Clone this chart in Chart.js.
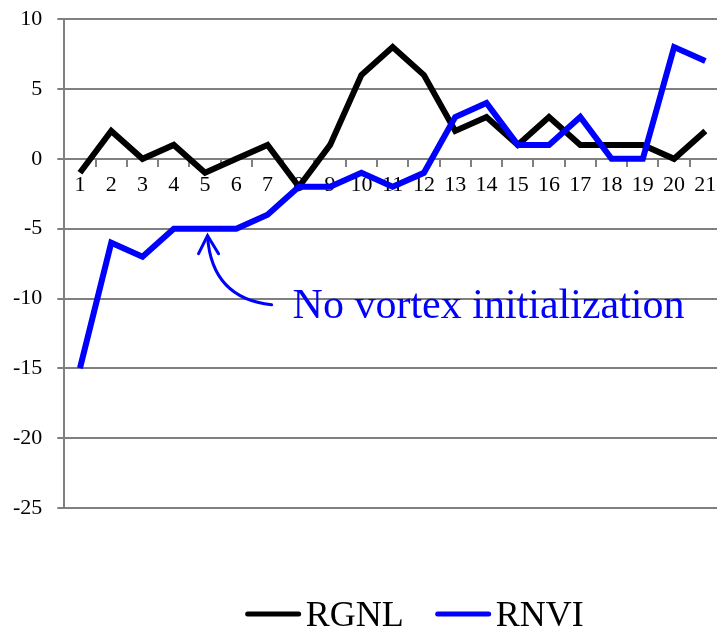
<!DOCTYPE html>
<html>
<head>
<meta charset="utf-8">
<script src="https://cdn.jsdelivr.net/npm/chart.js@4/dist/chart.umd.min.js"></script>
<style>
    html, body { margin: 0; padding: 0; background: #fff; overflow: hidden; }
    #wrap { width: 732px; height: 639px; margin-top: -9px; margin-left: -2px; }
</style>
</head>
<body>
<div id="wrap"><canvas id="trackChart" width="732" height="639"></canvas></div>
<script>
// forecast lead times on the x axis
var leadTimes = ['1', '2', '3', '4', '5', '6', '7', '8', '9', '10', '11',
                 '12', '13', '14', '15', '16', '17', '18', '19', '20', '21'];
var rgnlValues = [-1, 2, 0, 1, -1, 0, 1, -2, 1, 6, 8, 6, 2, 3, 1, 3, 1, 1, 1, 0, 2];
var rnviValues = [-15, -6, -7, -5, -5, -5, -4, -2, -2, -1, -2, -1, 3, 4, 1, 1, 3, 0, 0, 8, 7];
var yTicks = [-25, -20, -15, -10, -5, 0, 5, 10];
var seriesNames = ['RGNL', 'RNVI'];
var seriesColors = ['#000000', '#0000ff'];
var noteText = 'No vortex initialization';

Chart.defaults.font.family = "'Liberation Serif', 'Times New Roman', serif";
Chart.defaults.color = '#000';

// arrow + text pointing at the RNVI plateau
var notePlugin = {
    id: 'note',
    afterDatasetsDraw: function(chart) {
        var x = chart.scales.x, y = chart.scales.y, ctx = chart.ctx;
        var tipX = x.getPixelForValue(4.08), tipY = y.getPixelForValue(-5.5);
        var ctlX = x.getPixelForValue(4.22), ctlY = y.getPixelForValue(-10.0);
        var endX = x.getPixelForValue(6.13), endY = y.getPixelForValue(-10.45);
        ctx.save();
        ctx.strokeStyle = seriesColors[1];
        ctx.lineWidth = 3;
        ctx.lineCap = 'round';
        ctx.beginPath();
        ctx.moveTo(endX, endY);
        ctx.quadraticCurveTo(ctlX, ctlY, tipX, tipY + 1);
        ctx.stroke();
        ctx.beginPath();
        ctx.moveTo(tipX - 9, tipY + 18);
        ctx.lineTo(tipX, tipY);
        ctx.lineTo(tipX + 11, tipY + 18);
        ctx.stroke();
        ctx.fillStyle = seriesColors[1];
        ctx.font = "42px 'Liberation Serif', serif";
        ctx.textBaseline = 'alphabetic';
        ctx.fillText(noteText, x.getPixelForValue(6.8), y.getPixelForValue(-11.36));
        ctx.restore();
    }
};

// legend drawn under the plot
var legendPlugin = {
    id: 'lineLegend',
    afterDraw: function(chart) {
        var ctx = chart.ctx;
        var area = chart.chartArea;
        var lineLen = 55, gapText = 5, gapItem = 32;
        ctx.save();
        ctx.font = "36px 'Liberation Serif', serif";
        var widths = seriesNames.map(function(n) { return ctx.measureText(n).width; });
        var total = 0;
        widths.forEach(function(w) { total += lineLen + gapText + w; });
        total += gapItem * (seriesNames.length - 1);
        var cx = (area.left + area.right) / 2 + 22;
        var px = cx - total / 2;
        var lineY = chart.height - 16;
        seriesNames.forEach(function(name, i) {
            ctx.strokeStyle = seriesColors[i];
            ctx.lineWidth = 5;
            ctx.lineCap = 'round';
            ctx.beginPath();
            ctx.moveTo(px + 2, lineY);
            ctx.lineTo(px + lineLen - 2, lineY);
            ctx.stroke();
            ctx.fillStyle = '#000';
            ctx.fillText(name, px + lineLen + gapText, lineY + 12);
            px += lineLen + gapText + widths[i] + gapItem;
        });
        ctx.restore();
    }
};

var ctx = document.getElementById('trackChart').getContext('2d');
new Chart(ctx, {
    type: 'line',
    data: {
        labels: leadTimes,
        datasets: [{
            label: seriesNames[0],
            data: rgnlValues,
            borderColor: seriesColors[0],
            borderWidth: 6,
            pointRadius: 0,
            tension: 0,
            order: 1
        }, {
            label: seriesNames[1],
            data: rnviValues,
            borderColor: seriesColors[1],
            borderWidth: 6,
            pointRadius: 0,
            tension: 0,
            order: 0
        }]
    },
    options: {
        responsive: false,
        devicePixelRatio: 1,
        animation: false,
        layout: { padding: { top: 8, right: 9, bottom: 122, left: 0 } },
        plugins: {
            legend: { display: false },
            tooltip: { enabled: false }
        },
        scales: {
            x: {
                position: { y: 0 },
                offset: true,
                grid: { drawOnChartArea: false, offset: true, tickLength: 7, color: '#808080', lineWidth: 2 },
                border: { color: '#808080', width: 2 },
                ticks: { font: { size: 22 }, padding: 6, maxRotation: 0, autoSkip: false }
            },
            y: {
                min: yTicks[0],
                max: yTicks[yTicks.length - 1],
                afterBuildTicks: function(axis) {
                    axis.ticks = yTicks.map(function(v) { return { value: v }; });
                },
                grid: { color: '#808080', lineWidth: 2, tickLength: 7 },
                border: { color: '#808080', width: 2 },
                ticks: { font: { size: 22 }, padding: 15 }
            }
        }
    },
    plugins: [notePlugin, legendPlugin]
});
</script>
</body>
</html>
